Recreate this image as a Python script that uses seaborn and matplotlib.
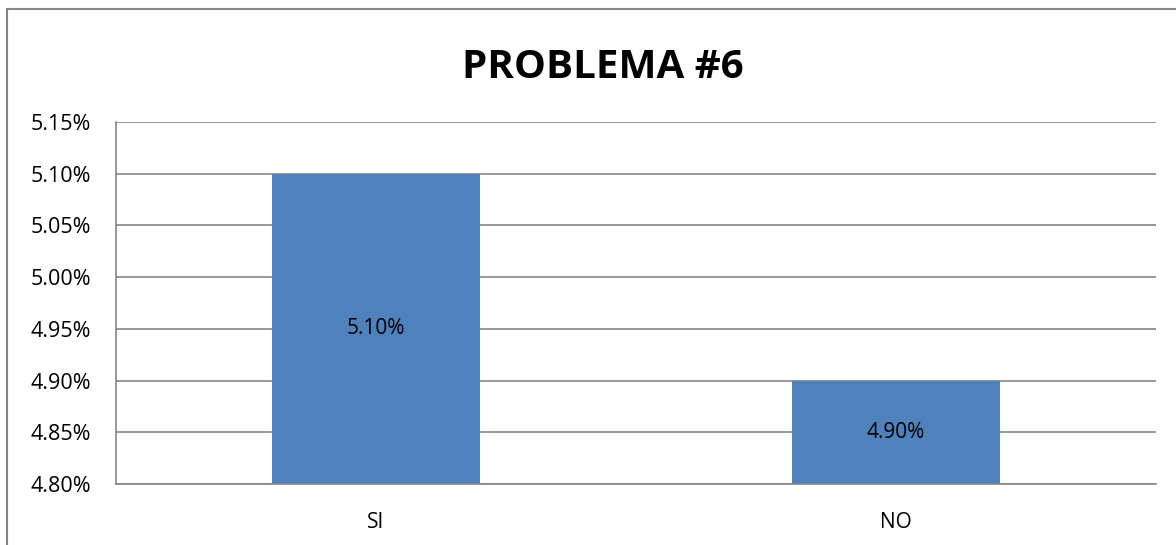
import matplotlib
matplotlib.use("Agg")
import matplotlib.pyplot as plt
import matplotlib.patches as patches
from matplotlib.ticker import FuncFormatter, FixedLocator
import seaborn as sns
import pandas as pd

# data
kategori = ["SI", "NO"]
persen = [5.10, 4.90]
y_ticks = [4.80, 4.85, 4.90, 4.95, 5.00, 5.05, 5.10, 5.15]

sns.set_theme(style="white")
plt.rcParams['font.family'] = ['Open Sans', 'DejaVu Sans']
plt.rcParams['text.color'] = 'black'
plt.rcParams['xtick.color'] = 'black'
plt.rcParams['ytick.color'] = 'black'

df = pd.DataFrame({"Kategori": kategori, "Persen": persen})

fig = plt.figure(figsize=(11.76, 5.45), dpi=100)
ax = fig.add_axes([116/1176, 1-484/545, (1156-116)/1176, (484-122)/545])

sns.barplot(data=df, x="Kategori", y="Persen", color="#4F81BD", width=0.4,
            saturation=1, edgecolor="none", linewidth=0, ax=ax)

grey = "#868686"
ax.set_ylim(4.80, 5.15)
ax.set_xlim(-0.5, 1.5)
ax.set_yticks(y_ticks)
ax.yaxis.set_major_formatter(FuncFormatter(lambda v, p: f"{v:.2f}%"))
ax.yaxis.grid(True, color=grey, linewidth=1.2)
ax.set_axisbelow(True)

ax.xaxis.set_major_locator(FixedLocator([-0.5, 0.5, 1.5]))
ax.xaxis.set_major_formatter(FuncFormatter(lambda v, p: ""))
ax.xaxis.set_minor_locator(FixedLocator([0, 1]))
ax.set_xticklabels(kategori, minor=True)
ax.tick_params(axis="x", which="major", direction="out", length=6, color=grey, width=1.2)
ax.tick_params(axis="x", which="minor", length=0, pad=20, labelsize=15)
ax.tick_params(axis="y", direction="out", length=6, color=grey, width=1.2, pad=12, labelsize=15.5)
ax.set_xlabel("")
ax.set_ylabel("")

for s in ["top", "right"]:
    ax.spines[s].set_visible(False)
for s in ["left", "bottom"]:
    ax.spines[s].set_color(grey)
    ax.spines[s].set_linewidth(1.2)

for i, v in enumerate(persen):
    ax.text(i, (4.80 + v) / 2, f"{v:.2f}%", ha="center", va="center",
            fontsize=15, color="black")

fig.text(603/1176, 1-67/545, "PROBLEMA #6", ha="center", va="center",
         fontsize=29, fontweight="bold", color="black")

# chart frame (Excel style)
frame = patches.Rectangle((7/1176, -0.1), 1.2, 1-9/545 + 0.1, transform=fig.transFigure,
                          fill=False, edgecolor=grey, linewidth=1.5)
fig.patches.append(frame)

fig.savefig("out.png", dpi=100)
